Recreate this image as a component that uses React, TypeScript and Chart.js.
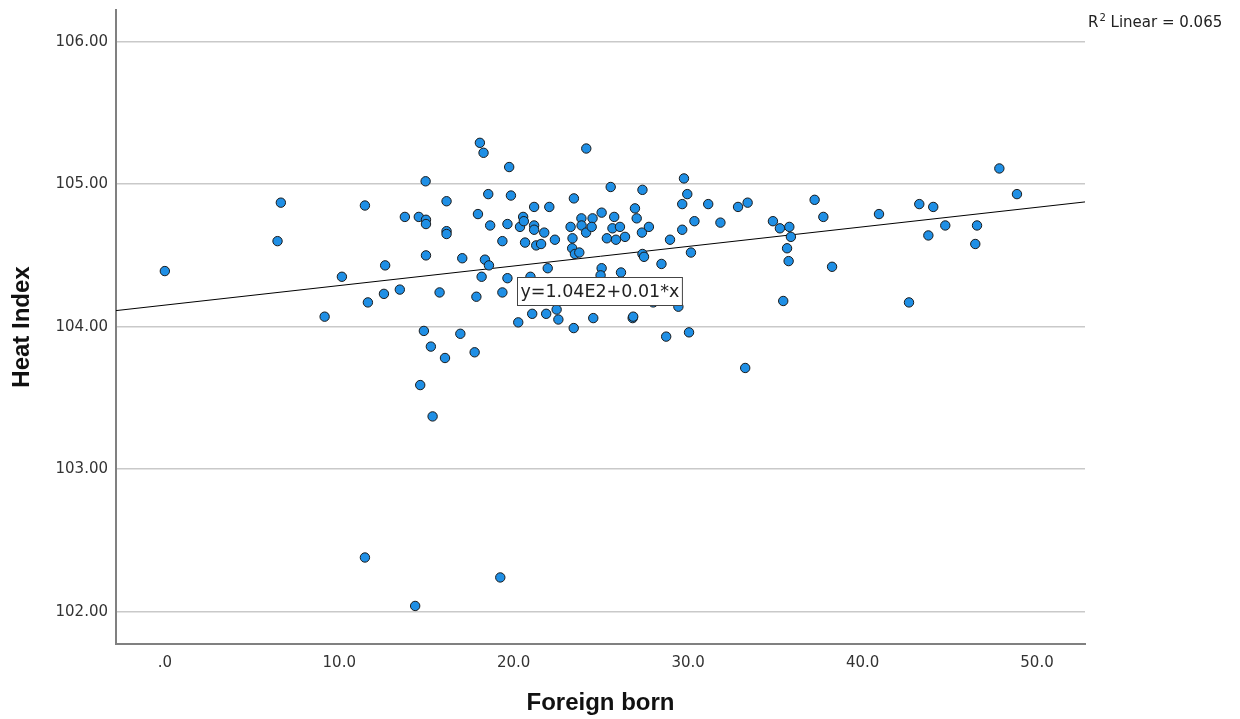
import React, { useEffect, useRef } from "react";
import { Chart, registerables } from "chart.js";

Chart.register(...registerables);

// Foreign born (%) for each case
const foreignBorn = [
  0.0, 6.65, 6.46, 9.16, 10.15, 11.47, 11.64, 12.63, 12.56, 13.47,
  13.76, 14.56, 14.97, 14.97, 14.95, 14.97, 14.85, 15.25, 14.64, 15.35,
  15.75, 16.06, 16.15, 16.15, 16.15, 16.94, 17.05, 17.76, 17.86, 17.95,
  18.06, 18.27, 18.35, 18.58, 18.16, 18.54, 18.65, 19.35, 19.35, 19.64,
  19.64, 19.74, 19.84, 20.26, 20.36, 20.54, 20.58, 20.65, 20.96, 21.06,
  21.17, 21.17, 21.17, 21.29, 21.57, 21.75, 21.86, 21.95, 22.04, 22.36,
  22.46, 22.56, 23.26, 23.37, 23.35, 23.51, 23.76, 23.44, 23.45, 23.88,
  23.89, 24.16, 24.15, 24.52, 24.47, 24.56, 25.04, 25.04, 24.98, 25.34,
  25.56, 25.76, 25.66, 25.86, 26.09, 26.15, 26.38, 26.82, 26.85, 26.95,
  27.05, 27.38, 27.35, 27.38, 27.47, 27.75, 28.0, 28.47, 28.74, 28.96,
  29.44, 29.76, 29.66, 29.66, 29.95, 30.05, 30.16, 30.36, 31.15, 31.85,
  32.86, 33.41, 33.27, 34.86, 35.26, 35.8, 35.89, 35.67, 35.76, 35.45,
  37.25, 37.75, 38.25, 40.94, 42.66, 43.25, 44.05, 43.77, 44.74, 46.56,
  46.46, 47.84, 48.85, 11.47, 14.35, 19.23,
];

// Heat Index for each case
const heatIndex = [
  104.39, 104.87, 104.6, 104.07, 104.35, 104.85, 104.17, 104.43, 104.23, 104.26,
  104.77, 104.77, 104.75, 104.72, 105.02, 104.5, 103.97, 103.86, 103.59, 103.37,
  104.24, 103.78, 104.88, 104.67, 104.65, 103.95, 104.48, 103.82, 104.21, 104.79,
  105.29, 105.22, 104.47, 104.43, 104.35, 104.93, 104.71, 104.6, 104.24, 104.72,
  104.34, 105.12, 104.92, 104.03, 104.7, 104.77, 104.74, 104.59, 104.35, 104.09,
  104.84, 104.71, 104.68, 104.57, 104.58, 104.66, 104.09, 104.41, 104.84, 104.61,
  104.12, 104.05, 104.7, 104.62, 104.55, 104.51, 104.52, 103.99, 104.9, 104.76,
  104.71, 105.25, 104.66, 104.76, 104.7, 104.06, 104.8, 104.41, 104.36, 104.62,
  104.98, 104.77, 104.69, 104.61, 104.7, 104.38, 104.63, 104.06, 104.07, 104.83,
  104.76, 104.96, 104.66, 104.51, 104.49, 104.7, 104.17, 104.44, 103.93, 104.61,
  104.14, 105.04, 104.86, 104.68, 104.93, 103.96, 104.52, 104.74, 104.86, 104.73,
  104.84, 104.87, 103.71, 104.74, 104.69, 104.7, 104.63, 104.55, 104.46, 104.18,
  104.89, 104.77, 104.42, 104.79, 104.17, 104.86, 104.84, 104.64, 104.71, 104.71,
  104.58, 105.11, 104.93, 102.38, 102.04, 102.24,
];

// Linear fit
const fitIntercept = 104.151;
const fitSlope = 0.01373;
const equationText = "y=1.04E2+0.01*x";
const equationAt = [24.94, 104.25];
const rSquaredText = ["R", "2", " Linear = 0.065"];

// Axis ranges & ticks
const xRange = [-2.8, 52.75];
const yRange = [101.773, 106.222];
const xTicks = [0, 10, 20, 30, 40, 50];
const xTickLabels = [".0", "10.0", "20.0", "30.0", "40.0", "50.0"];
const yTicks = [102, 103, 104, 105, 106];
const yTickLabels = ["102.00", "103.00", "104.00", "105.00", "106.00"];
const xTitle = "Foreign born";
const yTitle = "Heat Index";

const annotationPlugin = {
  id: "spssAnnotations",
  afterDraw(chart: any) {
    const { ctx, scales, chartArea } = chart;
    const xs = scales.x;
    const ys = scales.y;
    ctx.save();
    // equation box
    ctx.font = '17.5px "DejaVu Sans"';
    const tw = ctx.measureText(equationText).width;
    const cx = xs.getPixelForValue(equationAt[0]);
    const cy = ys.getPixelForValue(equationAt[1]);
    const bw = tw + 6;
    const bh = 28;
    const bx = Math.round(cx - bw / 2) + 0.5;
    const by = Math.round(cy - bh / 2) + 0.5;
    ctx.fillStyle = "#ffffff";
    ctx.fillRect(bx, by, bw, bh);
    ctx.strokeStyle = "#444444";
    ctx.lineWidth = 1;
    ctx.strokeRect(bx, by, bw, bh);
    ctx.fillStyle = "#222222";
    ctx.textAlign = "center";
    ctx.textBaseline = "middle";
    ctx.fillText(equationText, cx, cy + 1);

    // R² annotation
    let tx = chartArea.right + 3;
    const ty = 22;
    ctx.textAlign = "left";
    ctx.textBaseline = "alphabetic";
    ctx.fillStyle = "#222222";
    ctx.font = '15px "DejaVu Sans"';
    ctx.fillText(rSquaredText[0], tx, ty + 5);
    tx += ctx.measureText(rSquaredText[0]).width + 1;
    ctx.font = '10px "DejaVu Sans"';
    ctx.fillText(rSquaredText[1], tx, ty - 1);
    tx += ctx.measureText(rSquaredText[1]).width;
    ctx.font = '15px "DejaVu Sans"';
    ctx.fillText(rSquaredText[2], tx, ty + 5);
    ctx.restore();
  },
};

export default function App() {
  const canvasRef = useRef<HTMLCanvasElement | null>(null);

  useEffect(() => {
    const canvas = canvasRef.current;
    if (!canvas) return;
    const points = foreignBorn.map((x, i) => ({ x, y: heatIndex[i] }));
    const fitLine = [
      { x: xRange[0], y: fitIntercept + fitSlope * xRange[0] },
      { x: xRange[1], y: fitIntercept + fitSlope * xRange[1] },
    ];
    const tickFont = { family: "DejaVu Sans", size: 15 };
    const titleFont = { family: "Liberation Sans", size: 24, weight: "bold" as const };

    const chart = new Chart(canvas, {
      type: "scatter",
      data: {
        datasets: [
          {
            label: "Heat Index",
            data: points,
            backgroundColor: "#1f8fe5",
            borderColor: "#1a1a1a",
            borderWidth: 1,
            pointRadius: 4.7,
            order: 1,
          },
          {
            label: "Fit",
            data: fitLine,
            showLine: true,
            borderColor: "#000000",
            borderWidth: 1,
            pointRadius: 0,
            order: 2,
          } as any,
        ],
      },
      options: {
        responsive: false,
        animation: false,
        devicePixelRatio: 1,
        layout: { padding: { left: 0, top: 10, right: 155, bottom: 0 } },
        plugins: {
          legend: { display: false },
          tooltip: { enabled: false },
        },
        scales: {
          x: {
            type: "linear",
            min: xRange[0],
            max: xRange[1],
            afterBuildTicks: (scale: any) => {
              scale.ticks = xTicks.map((v) => ({ value: v }));
            },
            afterFit: (scale: any) => {
              scale.height = 75;
              scale.paddingLeft = 0;
              scale.paddingRight = 0;
            },
            grid: { display: true, color: "rgba(0,0,0,0)", drawTicks: false },
            border: { display: true, color: "#808080", width: 2 },
            ticks: {
              font: tickFont,
              color: "#333333",
              padding: 10,
              maxRotation: 0,
              callback: (_v: any, i: number) => xTickLabels[i],
            },
            title: {
              display: true,
              text: xTitle,
              font: titleFont,
              color: "#111111",
              padding: { top: 0, bottom: 1 },
            },
          },
          y: {
            type: "linear",
            min: yRange[0],
            max: yRange[1],
            afterBuildTicks: (scale: any) => {
              scale.ticks = yTicks.map((v) => ({ value: v }));
            },
            afterFit: (scale: any) => {
              scale.width = 116;
              scale.paddingTop = 0;
              scale.paddingBottom = 0;
            },
            grid: { display: true, color: "#c9c9c9", lineWidth: 1.5, drawTicks: false },
            border: { display: true, color: "#808080", width: 2 },
            ticks: {
              font: tickFont,
              color: "#333333",
              padding: 8,
              callback: (_v: any, i: number) => yTickLabels[i],
            },
            title: {
              display: true,
              text: yTitle,
              font: titleFont,
              color: "#111111",
              padding: { top: 8, bottom: 0 },
            },
          },
        },
      },
      plugins: [annotationPlugin],
    });

    return () => chart.destroy();
  }, []);

  return (
    <div style={{ position: "absolute", left: 0, top: 0, width: 1240, height: 719, background: "#fff" }}>
      <canvas ref={canvasRef} width={1240} height={719} style={{ display: "block" }} />
    </div>
  );
}
